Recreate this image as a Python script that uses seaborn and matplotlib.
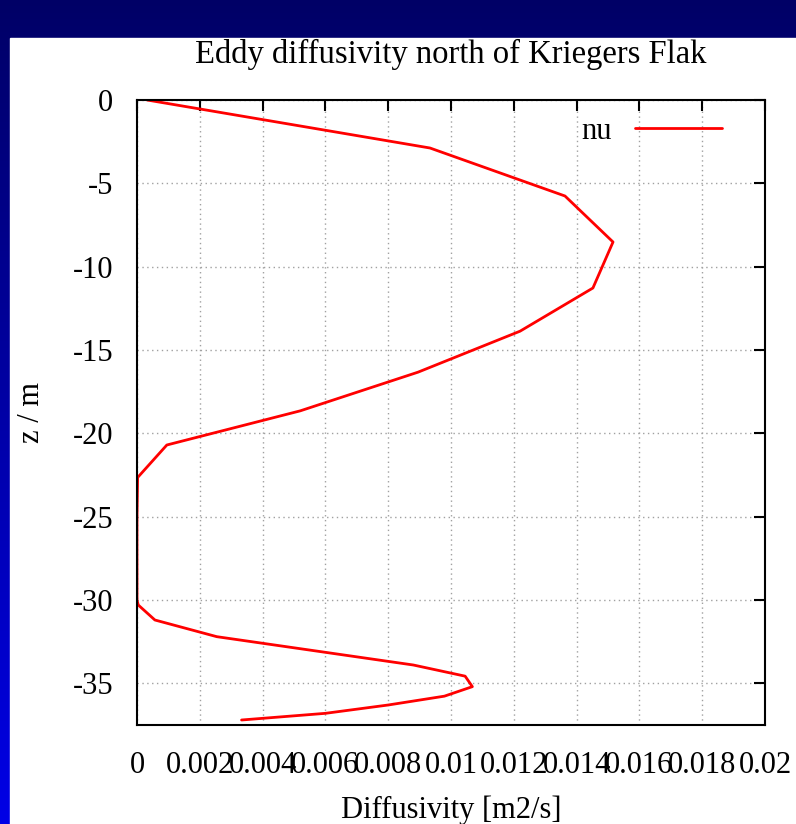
import numpy as np
import pandas as pd
import matplotlib
matplotlib.use("Agg")
import matplotlib.pyplot as plt
import seaborn as sns

# eddy diffusivity profile
depth = [0, -2.88, -5.76, -8.52, -11.28, -13.87, -16.33, -18.65, -20.7, -22.65,
         -25.0, -27.5, -30.0, -30.3, -31.2, -32.2, -33.9, -34.57, -35.2, -35.77,
         -36.3, -36.8, -37.2]
nu = [0.00032, 0.00933, 0.01363, 0.01516, 0.01452, 0.0122, 0.00895, 0.0052,
      0.00095, 0.00002, 0.0, 0.0, 0.0, 0.00004, 0.00057, 0.00254, 0.0088,
      0.01045, 0.01068, 0.00979, 0.0080, 0.0060, 0.00333]

x_ticks = [0, 0.002, 0.004, 0.006, 0.008, 0.01, 0.012, 0.014, 0.016, 0.018, 0.02]
x_labels = ["0", "0.002", "0.004", "0.006", "0.008", "0.01", "0.012", "0.014",
            "0.016", "0.018", "0.02"]
y_ticks = [0, -5, -10, -15, -20, -25, -30, -35]

df = pd.DataFrame({"nu": nu, "z": depth})

sns.set_theme(style="white")
plt.rcParams["font.family"] = ["Liberation Serif", "DejaVu Serif"]
plt.rcParams["axes.unicode_minus"] = False
plt.rcParams["text.color"] = "black"
plt.rcParams["axes.labelcolor"] = "black"

W, H = 796, 824
fig = plt.figure(figsize=(W / 100, H / 100), dpi=100)

# slide background: dark band on top, blue gradient strip on the left
bg = fig.add_axes([0, 0, 1, 1], zorder=-10)
grad = np.linspace(0, 1, 256).reshape(-1, 1)
cmap = matplotlib.colors.LinearSegmentedColormap.from_list("slide", ["#000066", "#0000e6"])
bg.imshow(grad, aspect="auto", cmap=cmap, extent=[0, 1, 0, 1], origin="upper")
bg.add_patch(plt.Rectangle((10 / W, 0), 1 - 10 / W, 1 - 38 / H, color="white"))
bg.set_xlim(0, 1)
bg.set_ylim(0, 1)
bg.axis("off")

ax = fig.add_axes([137 / W, 1 - 725 / H, (765 - 137) / W, (725 - 100) / H])
sns.lineplot(data=df, x="nu", y="z", sort=False, estimator=None, color="red",
             linewidth=2.0, label="nu", ax=ax)

ax.set_xlim(0, 0.02)
ax.set_ylim(-37.5, 0)
ax.set_xticks(x_ticks)
ax.set_xticklabels(x_labels)
ax.set_yticks(y_ticks)
ax.grid(True, color="#a0a0a0", linestyle=(0, (1, 2.5)), linewidth=1.0)
ax.tick_params(direction="in", length=8, width=1.5, labelsize=22, top=True, right=True,
               colors="black", labelcolor="black")
ax.tick_params(axis="x", pad=19)
ax.tick_params(axis="y", pad=17)
for s in ax.spines.values():
    s.set_color("black")
    s.set_linewidth(1.5)

ax.set_title("Eddy diffusivity north of Kriegers Flak", fontsize=23.5, pad=27, color="black")
ax.set_xlabel("Diffusivity [m2/s]", fontsize=22, labelpad=11)
ax.set_ylabel("z / m", fontsize=22, labelpad=19)

ax.legend(loc="upper right", bbox_to_anchor=((722 - 137) / 628, 1 - 17 / 625),
          frameon=False, markerfirst=False, fontsize=22, borderpad=0,
          borderaxespad=0, handlelength=2.85, handletextpad=0.75)

fig.savefig("out.png", dpi=100)
